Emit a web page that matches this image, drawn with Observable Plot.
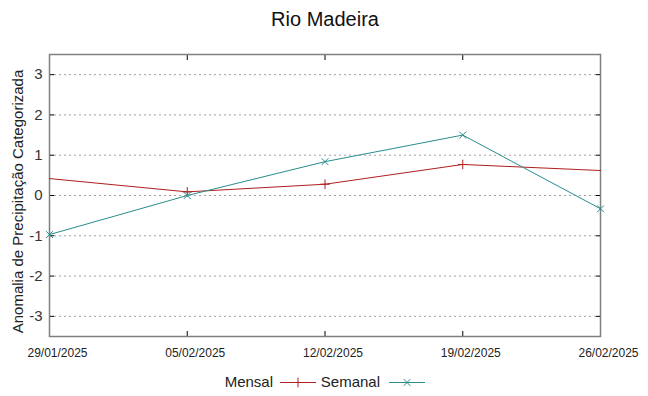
<!DOCTYPE html>
<html>
<head>
<meta charset="utf-8">
<script src="https://cdn.jsdelivr.net/npm/d3@7"></script>
<script src="https://cdn.jsdelivr.net/npm/@observablehq/plot@0.6"></script>
<style>
  html, body { margin: 0; padding: 0; background: #fff; }
  #wrap { position: relative; width: 648px; height: 396px; font-family: "Liberation Sans", Arial, sans-serif; }
  #legend { position: absolute; left: 0; top: 372px; width: 648px; height: 22px; }
</style>
</head>
<body>
<div id="wrap"></div>
<script>
const title = "Rio Madeira";
const yLabel = "Anomalia de Precipitação Categorizada";
const dates = ["2025-01-29", "2025-02-05", "2025-02-12", "2025-02-19", "2025-02-26"];
const mensal = [0.42, 0.09, 0.28, 0.77, 0.62];
const mensalMarked = [false, true, true, true, false];
const semanal = [-0.97, 0.0, 0.84, 1.5, -0.33];
const yTicks = [-3, -2, -1, 0, 1, 2, 3];
const seriesNames = ["Mensal", "Semanal"];
const colors = ["#b01e1e", "#2a8c8c"];

const parse = d3.utcParse("%Y-%m-%d");
const mData = dates.map((d, i) => ({date: parse(d), value: mensal[i], marked: mensalMarked[i]}));
const sData = dates.map((d, i) => ({date: parse(d), value: semanal[i]}));
const xTicks = dates.map(parse);
const fmt = d3.utcFormat("%d/%m/%Y");

const chart = Plot.plot({
  width: 648,
  height: 396,
  marginLeft: 49,
  marginRight: 48,
  marginTop: 54,
  marginBottom: 60,
  style: {fontFamily: "Liberation Sans, Arial, sans-serif", background: "#fff", overflow: "visible"},
  x: {type: "utc", domain: [xTicks[0], xTicks[xTicks.length - 1]]},
  y: {domain: [-3.5, 3.5]},
  marks: [
    Plot.ruleY(yTicks, {stroke: "#a0a0a0", strokeWidth: 1, strokeDasharray: "2,3"}),
    // tick labels
    Plot.axisY(yTicks, {tickSize: 0, tickPadding: 7, fontSize: 15, fill: "#333", tickFormat: d => String(d), label: null}),
    Plot.axisX(xTicks, {tickSize: 0, tickPadding: 12, fontSize: 12, dx: 8, fill: "#222", tickFormat: fmt, label: null}),
    // inward ticks (mirrored)
    Plot.axisY(yTicks, {anchor: "left", tickSize: 5, dx: 5, tickFormat: () => "", stroke: "#000", label: null}),
    Plot.axisY(yTicks, {anchor: "right", tickSize: 5, dx: -5, tickFormat: () => "", stroke: "#000", label: null}),
    Plot.axisX(xTicks, {anchor: "bottom", tickSize: 5, dy: -5, tickFormat: () => "", stroke: "#000", label: null}),
    Plot.axisX(xTicks, {anchor: "top", tickSize: 5, dy: 5, tickFormat: () => "", stroke: "#000", label: null}),
    Plot.frame({stroke: "#808080", strokeWidth: 1.5}),
    Plot.line(mData, {x: "date", y: "value", stroke: colors[0], strokeWidth: 1}),
    Plot.dot(mData.filter(d => d.marked), {x: "date", y: "value", symbol: "plus", stroke: colors[0], r: 3.2, strokeWidth: 1}),
    Plot.line(sData, {x: "date", y: "value", stroke: colors[1], strokeWidth: 1}),
    Plot.dot(sData, {x: "date", y: "value", symbol: "times", stroke: colors[1], r: 3.2, strokeWidth: 1}),
    Plot.text([title], {frameAnchor: "top", lineAnchor: "middle", dy: -35, fontSize: 20, fill: "#111", text: d => d}),
    Plot.text([yLabel], {frameAnchor: "left", textAnchor: "middle", lineAnchor: "middle", dx: -31, dy: 6, rotate: -90, fontSize: 15, fill: "#222", text: d => d})
  ]
});
document.getElementById("wrap").appendChild(chart);

// legend
const legend = d3.select("#wrap").append("svg").attr("id", "legend").attr("width", 648).attr("height", 22);
const items = [
  {name: seriesNames[0], color: colors[0], symbol: d3.symbolPlus, textEnd: 273, lineStart: 280},
  {name: seriesNames[1], color: colors[1], symbol: d3.symbolTimes, textEnd: 380, lineStart: 389}
];
items.forEach(it => {
  legend.append("text").attr("x", it.textEnd).attr("y", 10).attr("dy", "0.35em")
    .attr("text-anchor", "end").attr("font-size", 15).attr("fill", "#222")
    .attr("font-family", "Liberation Sans, Arial, sans-serif").text(it.name);
  legend.append("line").attr("x1", it.lineStart).attr("x2", it.lineStart + 36)
    .attr("y1", 10.5).attr("y2", 10.5).attr("stroke", it.color).attr("stroke-width", 1);
  legend.append("path").attr("d", d3.symbol(it.symbol, Math.PI * 3.2 * 3.2)())
    .attr("transform", `translate(${it.lineStart + 18},10.5)`)
    .attr("fill", "none").attr("stroke", it.color).attr("stroke-width", 1);
});
</script>
</body>
</html>
